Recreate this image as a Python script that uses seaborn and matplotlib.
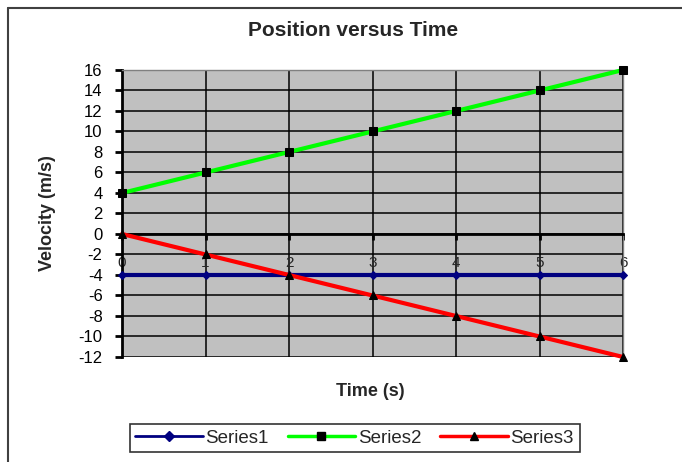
import matplotlib
matplotlib.use("Agg")
import matplotlib.pyplot as plt
import seaborn as sns
import pandas as pd
from matplotlib.lines import Line2D

# Data
time_s = [0, 1, 2, 3, 4, 5, 6]
series1 = [-4, -4, -4, -4, -4, -4, -4]
series2 = [4, 6, 8, 10, 12, 14, 16]
series3 = [0, -2, -4, -6, -8, -10, -12]
y_ticks = [-12, -10, -8, -6, -4, -2, 0, 2, 4, 6, 8, 10, 12, 14, 16]

sns.set_theme(style="white")
plt.rcParams["font.family"] = ["Liberation Sans", "DejaVu Sans"]

df = pd.DataFrame({"Time": time_s, "Series1": series1,
                   "Series2": series2, "Series3": series3})

fig = plt.figure(figsize=(6.82, 4.62), dpi=100)
ax = fig.add_axes([0.1789, 0.2273, 0.7346, 0.6212])
ax.set_facecolor("#C0C0C0")

styles = {
    "Series1": dict(color="#000080", marker="D", mfc="#000080", mec="#000080", ms=4),
    "Series2": dict(color="#00FF00", marker="s", mfc="black", mec="black", ms=6),
    "Series3": dict(color="#FF0000", marker="^", mfc="black", mec="black", ms=6),
}
for name, st in styles.items():
    sns.lineplot(data=df, x="Time", y=name, ax=ax, color=st["color"], lw=3,
                 marker=st["marker"], markerfacecolor=st["mfc"],
                 markeredgecolor=st["mec"], markersize=st["ms"], zorder=4,
                 clip_on=False)

ax.set_xlim(0, 6)
ax.set_ylim(-12, 16)
ax.set_xticks(time_s)
ax.set_yticks(y_ticks)
ax.set_yticklabels([str(v) for v in y_ticks], fontsize=12)
ax.set_xticklabels([str(v) for v in time_s], fontsize=11, color="#333333")

ax.grid(True, color="black", lw=1.1)
ax.set_axisbelow(True)

ax.spines["bottom"].set_position(("data", 0))
ax.spines["bottom"].set_linewidth(2)
ax.spines["bottom"].set_color("black")
ax.spines["left"].set_linewidth(2)
ax.spines["left"].set_color("black")
for s in ["top", "right"]:
    ax.spines[s].set_color("#808080")
    ax.spines[s].set_linewidth(1)

ax.tick_params(axis="y", direction="out", length=5, width=2, color="black",
               left=True, pad=9, labelcolor="black")
ax.tick_params(axis="x", direction="out", length=4, width=2, color="black",
               bottom=True, pad=12)

ax.set_xlabel("")
ax.set_ylabel("Velocity (m/s)", fontsize=13, fontweight="bold", labelpad=16)
fig.text(0.543, 0.152, "Time (s)", ha="center", va="center",
         fontsize=13, fontweight="bold")
fig.text(0.518, 0.935, "Position versus Time", ha="center", va="center",
         fontsize=15, fontweight="bold")

# legend
handles = [
    Line2D([], [], color="#000080", lw=2, marker="D", ms=5,
           mfc="#000080", mec="#000080"),
    Line2D([], [], color="#00FF00", lw=2.5, marker="s", ms=6,
           mfc="black", mec="black"),
    Line2D([], [], color="#FF0000", lw=2.5, marker="^", ms=6,
           mfc="black", mec="black"),
]
leg = fig.legend(handles, ["Series1", "Series2", "Series3"], ncol=3,
                 loc="center", bbox_to_anchor=(0.52, 0.052), fontsize=13.5,
                 frameon=True, fancybox=False, handlelength=3.6,
                 handletextpad=0.15, columnspacing=1.0, borderpad=0.3)
leg.get_frame().set_edgecolor("black")
leg.get_frame().set_linewidth(1.2)

# chart outer border (top and left)
fig.add_artist(Line2D([8 / 682, 1], [1 - 8 / 462, 1 - 8 / 462],
                      transform=fig.transFigure, color="#404040", lw=1.5))
fig.add_artist(Line2D([8 / 682, 8 / 682], [0, 1 - 8 / 462],
                      transform=fig.transFigure, color="#404040", lw=1.5))

fig.savefig("out.png", dpi=100)
